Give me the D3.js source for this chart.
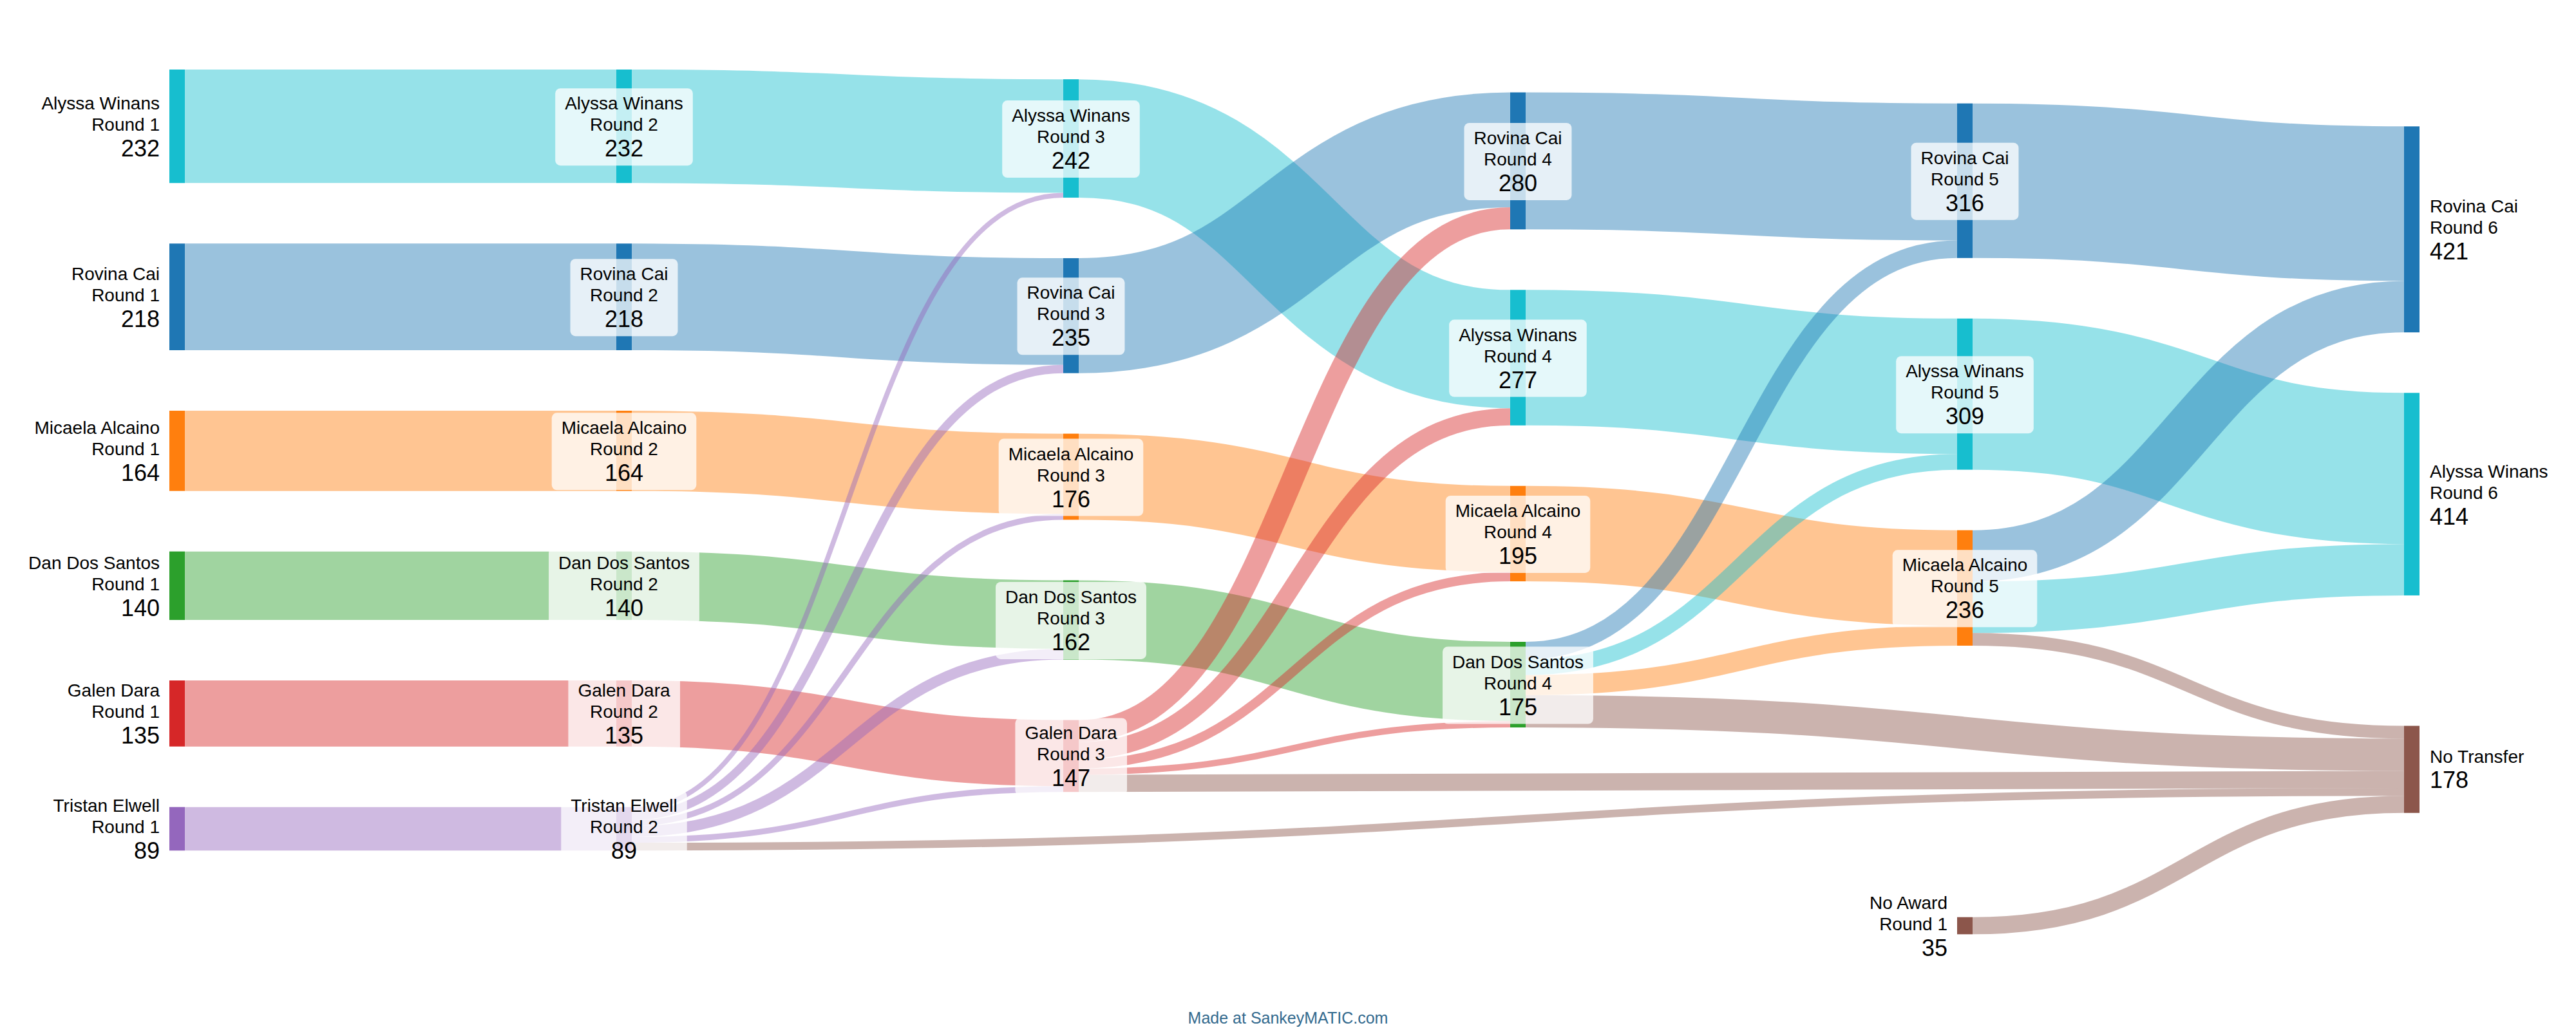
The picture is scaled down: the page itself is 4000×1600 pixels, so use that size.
<!doctype html>
<html>
<head>
<title>Ranked choice transfers</title>
<style>
  body { margin: 0; overflow: hidden; background: #fff; }
  text { font-family: "Liberation Sans", Arial, sans-serif; fill: #000; }
</style>
</head>
<body>
<script src="https://cdn.jsdelivr.net/npm/d3@7"></script>
<script>
const candidates = ["Alyssa Winans", "Rovina Cai", "Micaela Alcaino", "Dan Dos Santos", "Galen Dara", "Tristan Elwell"];
const candidateColours = ["#17becf", "#1f77b4", "#ff7f0e", "#2ca02c", "#d62728", "#9467bd"];
const otherColour = "#8c564b";

// [from, round, to, round, votes] - "No Transfer" has no round
const flows = [
  ["Alyssa Winans", 1, "Alyssa Winans", 2, 232],
  ["Rovina Cai", 1, "Rovina Cai", 2, 218],
  ["Micaela Alcaino", 1, "Micaela Alcaino", 2, 164],
  ["Dan Dos Santos", 1, "Dan Dos Santos", 2, 140],
  ["Galen Dara", 1, "Galen Dara", 2, 135],
  ["Tristan Elwell", 1, "Tristan Elwell", 2, 89],

  ["Alyssa Winans", 2, "Alyssa Winans", 3, 232],
  ["Rovina Cai", 2, "Rovina Cai", 3, 218],
  ["Micaela Alcaino", 2, "Micaela Alcaino", 3, 164],
  ["Dan Dos Santos", 2, "Dan Dos Santos", 3, 140],
  ["Galen Dara", 2, "Galen Dara", 3, 135],
  ["Tristan Elwell", 2, "Alyssa Winans", 3, 10],
  ["Tristan Elwell", 2, "Rovina Cai", 3, 17],
  ["Tristan Elwell", 2, "Micaela Alcaino", 3, 12],
  ["Tristan Elwell", 2, "Dan Dos Santos", 3, 22],
  ["Tristan Elwell", 2, "Galen Dara", 3, 12],
  ["Tristan Elwell", 2, "No Transfer", null, 16],

  ["Alyssa Winans", 3, "Alyssa Winans", 4, 242],
  ["Rovina Cai", 3, "Rovina Cai", 4, 235],
  ["Micaela Alcaino", 3, "Micaela Alcaino", 4, 176],
  ["Dan Dos Santos", 3, "Dan Dos Santos", 4, 162],
  ["Galen Dara", 3, "Rovina Cai", 4, 45],
  ["Galen Dara", 3, "Alyssa Winans", 4, 35],
  ["Galen Dara", 3, "Micaela Alcaino", 4, 19],
  ["Galen Dara", 3, "Dan Dos Santos", 4, 13],
  ["Galen Dara", 3, "No Transfer", null, 35],

  ["Rovina Cai", 4, "Rovina Cai", 5, 280],
  ["Alyssa Winans", 4, "Alyssa Winans", 5, 277],
  ["Micaela Alcaino", 4, "Micaela Alcaino", 5, 195],
  ["Dan Dos Santos", 4, "Rovina Cai", 5, 36],
  ["Dan Dos Santos", 4, "Alyssa Winans", 5, 32],
  ["Dan Dos Santos", 4, "Micaela Alcaino", 5, 41],
  ["Dan Dos Santos", 4, "No Transfer", null, 66],

  ["Rovina Cai", 5, "Rovina Cai", 6, 316],
  ["Alyssa Winans", 5, "Alyssa Winans", 6, 309],
  ["Micaela Alcaino", 5, "Rovina Cai", 6, 105],
  ["Micaela Alcaino", 5, "Alyssa Winans", 6, 105],
  ["Micaela Alcaino", 5, "No Transfer", null, 26],

  ["No Award", 1, "No Transfer", null, 35]
];

// transfers from these eliminated candidates keep their own colour
const tintedBySource = new Set(["Tristan Elwell", "Galen Dara"]);

const width = 4000, height = 1600;
const nodeWidth = 24, nodePad = 94;
const y0 = 108, y1 = 1487;
const iterations = 32;

const x = d3.scaleLinear().domain([0, 5]).range([263, 3733]);
const thick = d3.scaleLinear().domain([0, 100]).range([0, 76]);
const colour = d3.scaleOrdinal().domain(candidates).range(candidateColours).unknown(otherColour);

// ---- graph
const nodes = [], byId = new Map();
function nodeFor(name, round) {
  const id = round == null ? name : name + " Round " + round;
  if (!byId.has(id)) {
    const n = { id, name, round, sourceLinks: [], targetLinks: [], index: nodes.length };
    byId.set(id, n);
    nodes.push(n);
  }
  return byId.get(id);
}
const links = flows.map(([s, sr, t, tr, v], i) => {
  const source = nodeFor(s, sr), target = nodeFor(t, tr);
  const l = { source, target, value: v, index: i, width: thick(v) };
  source.sourceLinks.push(l);
  target.targetLinks.push(l);
  return l;
});
nodes.forEach(n => {
  n.value = Math.max(d3.sum(n.sourceLinks, l => l.value), d3.sum(n.targetLinks, l => l.value));
  n.depth = 0;
});
for (let k = 0; k < nodes.length; k++) {
  links.forEach(l => { l.target.depth = Math.max(l.target.depth, l.source.depth + 1); });
}
// origins sit one column before their first target
nodes.forEach(n => {
  n.layer = n.targetLinks.length ? n.depth : d3.min(n.sourceLinks, l => l.target.depth) - 1;
  n.x0 = x(n.layer);
  n.x1 = n.x0 + nodeWidth;
});
const columns = d3.groups(nodes, n => n.layer)
  .sort((a, b) => a[0] - b[0])
  .map(([, c]) => c.sort((a, b) => b.value - a.value));

// ---- vertical layout: relaxation in the style of d3-sankey, order kept
const byBreadth = (a, b) => a.y0 - b.y0;
const byTarget = (a, b) => byBreadth(a.target, b.target) || a.index - b.index;
const bySource = (a, b) => byBreadth(a.source, b.source) || a.index - b.index;

function reorderLinks(ns) {
  for (const n of ns) { n.sourceLinks.sort(byTarget); n.targetLinks.sort(bySource); }
}
function reorderNodeLinks(n) {
  for (const l of n.targetLinks) l.source.sourceLinks.sort(byTarget);
  for (const l of n.sourceLinks) l.target.targetLinks.sort(bySource);
}
function shift(n, dy) { n.y0 += dy; n.y1 += dy; }

for (const col of columns) {
  let y = y0;
  for (const n of col) {
    n.y0 = y;
    n.y1 = y + thick(n.value);
    y = n.y1 + nodePad;
  }
  const extra = (y1 - y + nodePad) / (col.length + 1);
  col.forEach((n, i) => shift(n, extra * (i + 1)));
  reorderLinks(col);
}

// where the target should sit for a level link from source
function targetTop(source, target) {
  let y = source.y0;
  for (const l of source.sourceLinks) { if (l.target === target) break; y += l.width; }
  for (const l of target.targetLinks) { if (l.source === source) break; y -= l.width; }
  return y;
}
// where the source should sit, with the incoming links fanned out
function sourceTop(source, target) {
  let y = target.y0 - (target.targetLinks.length - 1) * nodePad / 2;
  for (const l of target.targetLinks) { if (l.source === source) break; y += l.width + nodePad; }
  for (const l of source.sourceLinks) { if (l.target === target) break; y -= l.width; }
  return y;
}

// keep order and spacing: weighted pool-adjacent-violators on the column
function resolveCollisions(col) {
  const offs = [];
  let off = 0;
  col.forEach(n => { offs.push(off); off += (n.y1 - n.y0) + nodePad; });
  const last = col[col.length - 1];
  const maxZ = y1 - (offs[col.length - 1] + (last.y1 - last.y0));
  const blocks = [];
  col.forEach((n, i) => {
    blocks.push({ sum: (n.y0 - offs[i]) * n.value, w: n.value, count: 1 });
    while (blocks.length > 1) {
      const b = blocks[blocks.length - 1], a = blocks[blocks.length - 2];
      if (a.sum / a.w <= b.sum / b.w) break;
      a.sum += b.sum; a.w += b.w; a.count += b.count;
      blocks.pop();
    }
  });
  let i = 0;
  for (const b of blocks) {
    const z = Math.max(y0, Math.min(maxZ, b.sum / b.w));
    for (let k = 0; k < b.count; k++, i++) shift(col[i], z + offs[i] - col[i].y0);
  }
}

for (let it = 0; it < iterations; ++it) {
  const alpha = Math.pow(0.99, it);
  for (let c = columns.length - 2; c >= 0; --c) {
    for (const s of columns[c]) {
      if (!s.sourceLinks.length) continue;
      const y = d3.sum(s.sourceLinks, l => sourceTop(s, l.target) * l.value) / d3.sum(s.sourceLinks, l => l.value);
      shift(s, (y - s.y0) * alpha);
      reorderNodeLinks(s);
    }
    resolveCollisions(columns[c]);
  }
  for (let c = 1; c < columns.length; ++c) {
    for (const t of columns[c]) {
      if (!t.targetLinks.length) continue;
      const y = d3.sum(t.targetLinks, l => targetTop(l.source, t) * l.value) / d3.sum(t.targetLinks, l => l.value);
      shift(t, (y - t.y0) * alpha);
      reorderNodeLinks(t);
    }
    resolveCollisions(columns[c]);
  }
}

reorderLinks(nodes);
for (const n of nodes) {
  let a = n.y0, b = n.y0;
  for (const l of n.sourceLinks) { l.y0 = a + l.width / 2; a += l.width; }
  for (const l of n.targetLinks) { l.y1 = b + l.width / 2; b += l.width; }
}

// ---- drawing
const svg = d3.select("body").append("svg")
  .attr("width", width)
  .attr("height", height)
  .style("background", "#fff");

function linkColour(l) {
  if (l.target.name === "No Transfer") return otherColour;
  return tintedBySource.has(l.source.name) ? colour(l.source.name) : colour(l.target.name);
}

const link = d3.linkHorizontal()
  .source(l => [l.source.x1, l.y0])
  .target(l => [l.target.x0, l.y1]);

svg.append("g")
  .attr("fill", "none")
  .selectAll("path")
  .data(links)
  .join("path")
  .attr("d", link)
  .attr("stroke", linkColour)
  .attr("stroke-opacity", 0.45)
  .attr("stroke-width", l => Math.max(1, l.width));

svg.append("g")
  .selectAll("rect")
  .data(nodes)
  .join("rect")
  .attr("x", n => n.x0)
  .attr("y", n => n.y0)
  .attr("width", nodeWidth)
  .attr("height", n => n.y1 - n.y0)
  .attr("fill", n => colour(n.name));

const lastLayer = columns.length - 1;
const labels = svg.append("g")
  .selectAll("g")
  .data(nodes)
  .join("g")
  .attr("transform", n => {
    const cy = (n.y0 + n.y1) / 2;
    if (!n.targetLinks.length) return `translate(${n.x0 - 15},${cy})`;
    if (n.layer === lastLayer) return `translate(${n.x1 + 16},${cy})`;
    return `translate(${(n.x0 + n.x1) / 2},${cy})`;
  })
  .attr("text-anchor", n => !n.targetLinks.length ? "end" : n.layer === lastLayer ? "start" : "middle");

labels.each(function (n) {
  const g = d3.select(this);
  const lines = n.round == null
    ? [[n.name, 28], [n.value, 36]]
    : [[n.name, 28], ["Round " + n.round, 28], [n.value, 36]];
  const offsets = lines.length === 3 ? [-26, 7, 47] : [-10, 29];
  g.selectAll("text")
    .data(lines)
    .join("text")
    .attr("y", (d, i) => offsets[i])
    .attr("font-size", d => d[1])
    .text(d => d[0]);
  if (n.targetLinks.length && n.layer !== lastLayer) {
    const box = this.getBBox();
    g.insert("rect", "text")
      .attr("x", box.x - 15)
      .attr("y", box.y - 8)
      .attr("width", box.width + 30)
      .attr("height", box.height + 14)
      .attr("rx", 8)
      .attr("fill", "#fff")
      .attr("fill-opacity", 0.75);
  }
});

svg.append("text")
  .attr("x", width / 2)
  .attr("y", 1590)
  .attr("text-anchor", "middle")
  .attr("font-size", 25)
  .style("fill", "#336a8e")
  .text("Made at SankeyMATIC.com");
</script>
</body>
</html>
